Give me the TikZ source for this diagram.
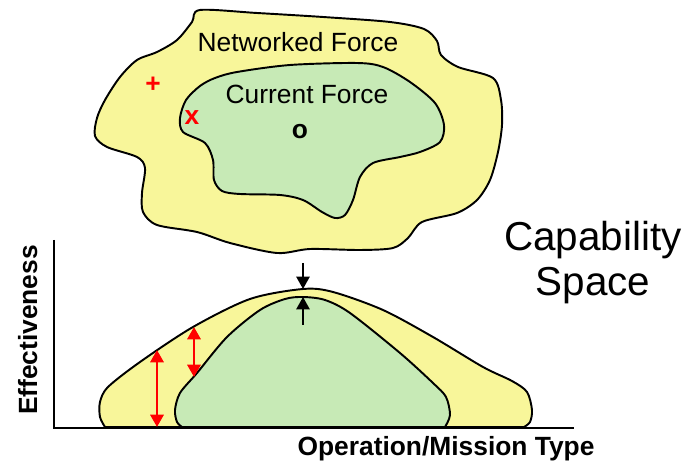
\documentclass[tikz,border=0pt]{standalone}
\usepackage{fontspec}
\setmainfont{Liberation Sans}
\usetikzlibrary
  {
    arrows.meta,              % triangle arrow heads
    positioning,              % place nodes relative to other nodes
  }

\definecolor{netyellow}{RGB}{248,246,154}
\definecolor{curgreen}{RGB}{199,234,182}

\begin{document}
\begin{tikzpicture}
    [
      x=0.02cm, y=-0.02cm,
      networked/.style=
        {
          draw=black,
          fill=netyellow,
          line width=1.1pt,
          line join=round,
        },
      current/.style=
        {
          draw=black,
          fill=curgreen,
          line width=1.1pt,
          line join=round,
        },
      blob text/.style={font=\fontsize{15}{18}\selectfont},
      axis title/.style={font=\fontsize{15}{18}\selectfont\bfseries},
      big title/.style={font=\fontsize{23}{27}\selectfont},
      marker/.style={font=\fontsize{15}{18}\selectfont\bfseries},
      gap arrow/.style=
        {
          red,
          line width=1.5pt,
          {Triangle[width=7.5pt,length=7pt]}-{Triangle[width=7.5pt,length=7pt]},
        },
      peak arrow/.style=
        {
          black,
          line width=1.1pt,
          -{Triangle[width=7.5pt,length=7pt]},
        },
    ]
    \useasboundingbox (0,0) rectangle (686,465);

    % capability space, top
    \draw[networked] plot[smooth cycle] coordinates
      {(200,10) (257,13) (323,17) (390,22) (424,29) (437,41) (441,55)
       (458,67) (493,78) (501,100) (502,125) (498,152) (490,180)
       (477,200) (457,213) (422,222) (408,238) (393,248) (360,250)
       (310,249) (277,253) (230,243) (197,232) (157,225) (143,212)
       (142,193) (145,168) (137,157) (107,147) (95,136) (97,118)
       (105,100) (120,77) (137,60) (157,52) (177,40) (192,22)};
    \draw[current] plot[smooth cycle] coordinates
      {(237,72) (290,65) (357,63) (383,67) (410,82) (435,103) (444,125)
       (440,142) (420,152) (400,157) (373,163) (360,177) (353,200)
       (345,215) (335,218) (322,212) (303,200) (280,195) (240,194)
       (222,191) (214,180) (213,160) (205,143) (183,132) (180,118)
       (186,100) (200,86) (215,78)};

    \node[blob text, anchor=base] (networked force) at (298,52) {Networked Force};
    \node[blob text, anchor=base] (current force)   at (307,104) {Current Force};
    \node[marker] (centre)  at (300,132) {o};
    \node[marker, text=red] (plus)    at (153,85)  {+};
    \node[marker, text=red] (cross)   at (192,118) {x};

    \node[big title, anchor=base] (capability) at (593,251) {Capability};
    \node[big title, anchor=base] (space)      at (593,296) {Space};

    % effectiveness curves, bottom
    \draw[networked] plot[smooth, tension=0.5] coordinates
      {(524,427) (530,422) (532,410) (527,392) (512,381) (483,367)
       (433,337) (383,310) (333,292) (303,289) (250,299) (193,327)
       (140,362) (108,387) (100,402) (100,417) (105,427)} -- cycle;
    \draw[current] plot[smooth, tension=0.5] coordinates
      {(445,427) (450,415) (446,397) (433,383) (400,353) (350,313)
       (325,300) (303,297) (285,299) (260,310) (227,337) (197,373)
       (180,393) (175,410) (177,422) (182,427)} -- cycle;

    \coordinate (axis top)    at (54,240);
    \coordinate (origin)      at (54,428);
    \coordinate (axis end)    at (574,428);
    \draw[line width=1.1pt] (axis top) -- (origin) -- (axis end);

    \node[axis title, rotate=90, anchor=base] (effectiveness) at (37,330) {Effectiveness};
    \node[axis title, anchor=base] (mission type) at (446,456) {Operation/Mission Type};

    % gaps between the two curves
    \coordinate (left top)     at (157,350);
    \coordinate (left bottom)  at (157,427);
    \coordinate (right top)    at (194,327);
    \coordinate (right bottom) at (194,377);
    \draw[gap arrow] (left top) -- (left bottom);
    \draw[gap arrow] (right top) -- (right bottom);

    \coordinate (outer peak) at (303,289);
    \coordinate (inner peak) at (303,297);
    \coordinate (above peak) at (303,263);
    \coordinate (below peak) at (303,325);
    \draw[peak arrow] (above peak) -- (outer peak);
    \draw[peak arrow] (below peak) -- (inner peak);
  \end{tikzpicture}
\end{document}
